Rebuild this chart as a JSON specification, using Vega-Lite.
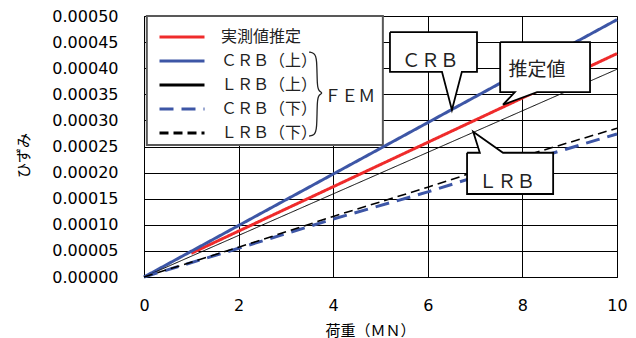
{
  "$schema": "https://vega.github.io/schema/vega-lite/v6.json",
  "width": 473,
  "height": 261,
  "autosize": {"type": "none"},
  "padding": {"left": 144, "top": 16, "right": 19, "bottom": 61},
  "background": "white",
  "config": {
    "view": {"stroke": "#666666", "strokeWidth": 1},
    "axis": {
      "grid": true,
      "gridColor": "#000000",
      "gridOpacity": 1,
      "gridWidth": 1,
      "domainColor": "#000000",
      "domainWidth": 1,
      "ticks": false,
      "labelFlush": false,
      "labelFont": "DejaVu Sans",
      "labelFontSize": 16,
      "labelColor": "#000000",
      "titleFont": "Noto Sans CJK JP",
      "titleFontSize": 15,
      "titleFontWeight": "normal",
      "titleColor": "#000000"
    },
    "legend": {
      "orient": "none",
      "legendX": 29,
      "legendY": 12,
      "padding": 0,
      "symbolType": "M-3,0H3",
      "symbolSize": 225,
      "symbolStrokeWidth": 3,
      "labelFont": "Noto Sans CJK JP",
      "labelFontSize": 16,
      "labelColor": "#222222",
      "labelOffset": 30,
      "rowPadding": 7
    }
  },
  "datasets": {
    "curves": [
      {"series": "実測値推定", "load": 1, "strain": 0.0000454},
      {"series": "実測値推定", "load": 10, "strain": 0.000428},
      {"series": "ＣＲＢ（上）", "load": 0, "strain": 0},
      {"series": "ＣＲＢ（上）", "load": 10, "strain": 0.000493},
      {"series": "ＬＲＢ（上）", "load": 0, "strain": 0},
      {"series": "ＬＲＢ（上）", "load": 10, "strain": 0.000398},
      {"series": "ＣＲＢ（下）", "load": 0, "strain": 0},
      {"series": "ＣＲＢ（下）", "load": 2, "strain": 0.000055},
      {"series": "ＣＲＢ（下）", "load": 4, "strain": 0.000111},
      {"series": "ＣＲＢ（下）", "load": 6, "strain": 0.000163},
      {"series": "ＣＲＢ（下）", "load": 8, "strain": 0.00022},
      {"series": "ＣＲＢ（下）", "load": 10, "strain": 0.000274},
      {"series": "ＬＲＢ（下）", "load": 0, "strain": 0},
      {"series": "ＬＲＢ（下）", "load": 2, "strain": 0.000057},
      {"series": "ＬＲＢ（下）", "load": 4, "strain": 0.000116},
      {"series": "ＬＲＢ（下）", "load": 6, "strain": 0.000172},
      {"series": "ＬＲＢ（下）", "load": 8, "strain": 0.000231},
      {"series": "ＬＲＢ（下）", "load": 10, "strain": 0.000285}
    ],
    "frame": [
      {"load": 0.06, "load2": 5.05, "strain": 0.000253, "strain2": 0.0005}
    ],
    "callouts": [
      {"id": "crb", "ord": 1, "load": 5.2, "strain": 0.000469},
      {"id": "crb", "ord": 2, "load": 7.04, "strain": 0.000469},
      {"id": "crb", "ord": 3, "load": 7.04, "strain": 0.000393},
      {"id": "crb", "ord": 4, "load": 6.72, "strain": 0.000393},
      {"id": "crb", "ord": 5, "load": 6.51, "strain": 0.00032},
      {"id": "crb", "ord": 6, "load": 6.3, "strain": 0.000393},
      {"id": "crb", "ord": 7, "load": 5.2, "strain": 0.000393},
      {"id": "crb", "ord": 8, "load": 5.2, "strain": 0.000469},
      {"id": "est", "ord": 1, "load": 7.53, "strain": 0.00045},
      {"id": "est", "ord": 2, "load": 9.43, "strain": 0.00045},
      {"id": "est", "ord": 3, "load": 9.43, "strain": 0.000354},
      {"id": "est", "ord": 4, "load": 8.31, "strain": 0.000354},
      {"id": "est", "ord": 5, "load": 7.59, "strain": 0.00033},
      {"id": "est", "ord": 6, "load": 7.84, "strain": 0.000354},
      {"id": "est", "ord": 7, "load": 7.53, "strain": 0.000354},
      {"id": "est", "ord": 8, "load": 7.53, "strain": 0.00045},
      {"id": "lrb", "ord": 1, "load": 6.83, "strain": 0.000238},
      {"id": "lrb", "ord": 2, "load": 7.1, "strain": 0.000238},
      {"id": "lrb", "ord": 3, "load": 6.96, "strain": 0.000278},
      {"id": "lrb", "ord": 4, "load": 7.59, "strain": 0.000238},
      {"id": "lrb", "ord": 5, "load": 8.65, "strain": 0.000238},
      {"id": "lrb", "ord": 6, "load": 8.65, "strain": 0.000159},
      {"id": "lrb", "ord": 7, "load": 6.83, "strain": 0.000159},
      {"id": "lrb", "ord": 8, "load": 6.83, "strain": 0.000238}
    ],
    "notes": [
      {"label": "ＣＲＢ", "load": 6.05, "strain": 0.000414},
      {"label": "推定値", "load": 8.31, "strain": 0.000397},
      {"label": "ＬＲＢ", "load": 7.67, "strain": 0.000182}
    ],
    "brace": [
      {"ord": 1, "load": 3.49, "strain": 0.000431},
      {"ord": 2, "load": 3.6, "strain": 0.000429},
      {"ord": 3, "load": 3.658, "strain": 0.00042},
      {"ord": 4, "load": 3.658, "strain": 0.000364},
      {"ord": 5, "load": 3.7, "strain": 0.000356},
      {"ord": 6, "load": 3.784, "strain": 0.0003525},
      {"ord": 7, "load": 3.7, "strain": 0.000349},
      {"ord": 8, "load": 3.658, "strain": 0.000341},
      {"ord": 9, "load": 3.658, "strain": 0.000281},
      {"ord": 10, "load": 3.6, "strain": 0.000272},
      {"ord": 11, "load": 3.49, "strain": 0.00027}
    ],
    "group": [
      {"label": "ＦＥＭ", "load": 3.81, "strain": 0.000345}
    ]
  },
  "encoding": {
    "x": {
      "field": "load",
      "type": "quantitative",
      "scale": {"domain": [0, 10], "nice": false},
      "axis": {
        "title": "荷重（ＭＮ）",
        "values": [0, 2, 4, 6, 8, 10],
        "labelPadding": 20,
        "titlePadding": 10,
        "titleX": 226
      }
    },
    "y": {
      "field": "strain",
      "type": "quantitative",
      "scale": {"domain": [0, 0.0005], "nice": false},
      "axis": {
        "title": "ひずみ",
        "values": [0, 0.00005, 0.0001, 0.00015, 0.0002, 0.00025, 0.0003, 0.00035, 0.0004, 0.00045, 0.0005],
        "format": ".5f",
        "labelPadding": 26,
        "titlePadding": 20,
        "titleY": 139
      }
    }
  },
  "layer": [
    {
      "data": {"name": "frame"},
      "mark": {"type": "rect", "fill": "white", "stroke": "#595959", "strokeWidth": 2},
      "encoding": {
        "x2": {"field": "load2"},
        "y2": {"field": "strain2"}
      }
    },
    {
      "data": {"name": "curves"},
      "mark": {"type": "line", "strokeCap": "butt"},
      "encoding": {
        "color": {
          "field": "series",
          "type": "nominal",
          "scale": {
            "domain": ["実測値推定", "ＣＲＢ（上）", "ＬＲＢ（上）", "ＣＲＢ（下）", "ＬＲＢ（下）"],
            "range": ["#ef2b2b", "#3d56a6", "#000000", "#3d56a6", "#000000"]
          },
          "legend": {
            "title": null,
            "encode": {
              "symbols": {
                "update": {
                  "strokeDash": {"signal": "indexof(datum.value, '下') >= 0 ? [16, 12] : [1, 0]"}
                }
              }
            }
          }
        },
        "strokeDash": {
          "field": "series",
          "type": "nominal",
          "scale": {
            "domain": ["実測値推定", "ＣＲＢ（上）", "ＬＲＢ（上）", "ＣＲＢ（下）", "ＬＲＢ（下）"],
            "range": [[1, 0], [1, 0], [1, 0], [14, 8], [9, 5]]
          },
          "legend": {"title": null}
        },
        "strokeWidth": {
          "condition": [
            {"test": "datum.series === 'ＬＲＢ（上）'", "value": 1},
            {"test": "datum.series === 'ＬＲＢ（下）'", "value": 1.6}
          ],
          "value": 3
        }
      }
    },
    {
      "data": {"name": "callouts"},
      "mark": {"type": "line", "fill": "white", "stroke": "#000000", "strokeWidth": 1.8, "strokeJoin": "miter"},
      "encoding": {
        "detail": {"field": "id"},
        "order": {"field": "ord", "type": "quantitative"}
      }
    },
    {
      "data": {"name": "notes"},
      "mark": {"type": "text", "font": "Noto Sans CJK JP", "fontSize": 19, "color": "#222222", "align": "center", "baseline": "middle"},
      "encoding": {
        "text": {"field": "label"}
      }
    },
    {
      "data": {"name": "brace"},
      "mark": {"type": "line", "interpolate": "basis", "stroke": "#222222", "strokeWidth": 1.3},
      "encoding": {
        "order": {"field": "ord", "type": "quantitative"}
      }
    },
    {
      "data": {"name": "group"},
      "mark": {"type": "text", "font": "Noto Sans CJK JP", "fontSize": 17, "color": "#222222", "align": "left", "baseline": "middle"},
      "encoding": {
        "text": {"field": "label"}
      }
    }
  ]
}
